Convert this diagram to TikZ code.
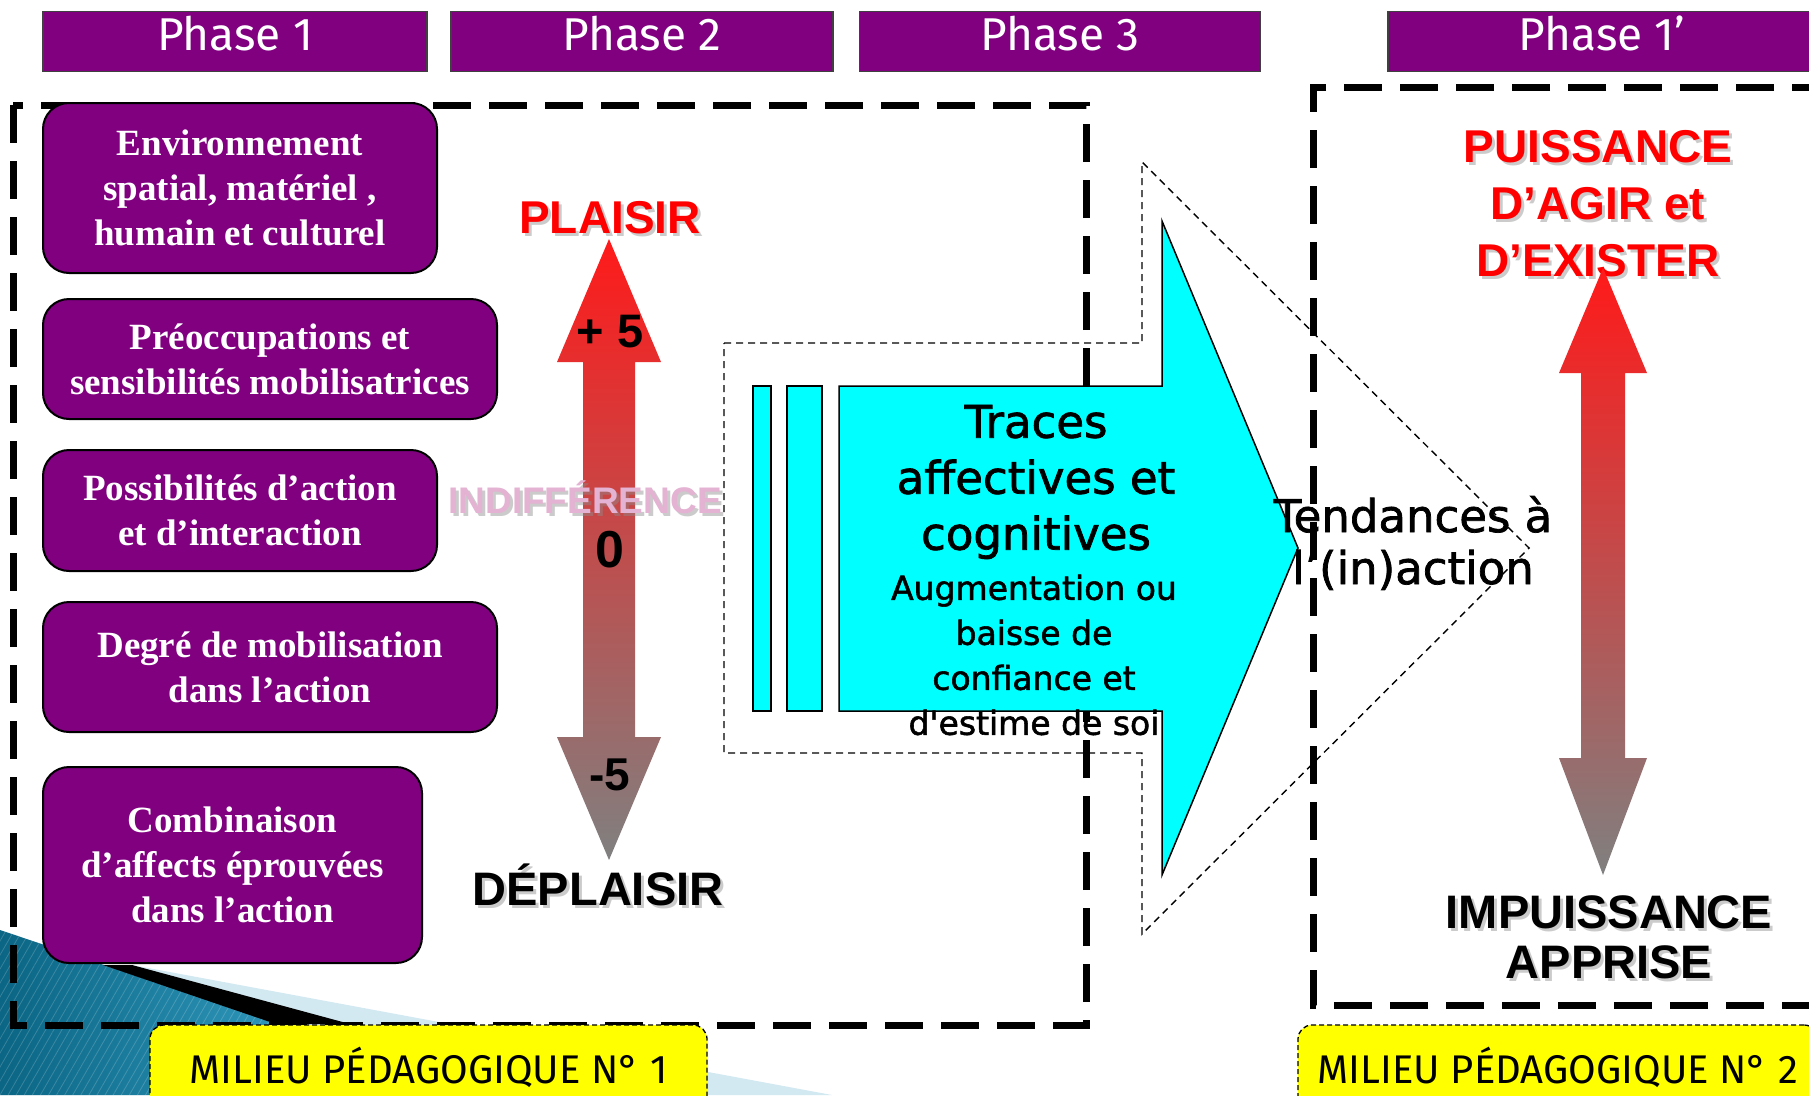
\documentclass[tikz,border=0pt]{standalone}
\usepackage{fontspec}
\setmainfont{Liberation Serif}
\newfontfamily\arialf{Liberation Sans}
\newfontfamily\dejaf[FakeBold=1.6]{DejaVu Sans}
\newfontfamily\firaf{Fira Sans}
\usetikzlibrary{patterns.meta}
\definecolor{purp}{HTML}{800080}
\definecolor{cyanf}{HTML}{00FFFF}
\definecolor{yel}{HTML}{FFFF00}
\definecolor{lblue}{HTML}{D3E9F1}
\definecolor{tealA}{HTML}{0B6584}
\definecolor{tealB}{HTML}{48BBE2}
\definecolor{pinkt}{HTML}{E4B2D2}
\definecolor{redt}{HTML}{FF0000}
\definecolor{arrred}{HTML}{FF1A1A}
\definecolor{arrgray}{HTML}{808080}
\begin{document}
\begin{tikzpicture}[x=1pt,y=-1pt,
  phasebox/.style={draw=black!75, line width=1.2pt, fill=purp, minimum height=60pt, inner sep=0pt,
    text=white, font=\firaf\fontsize{46pt}{52pt}\selectfont, text height=33pt, text depth=16pt},
  factor/.style={draw=black, line width=2pt, fill=purp, rounded corners=26pt, inner sep=0pt,
    text=white, font=\bfseries\fontsize{37pt}{45pt}\selectfont, align=center},
  bigdash/.style={line width=7pt, dash pattern=on 38pt off 18pt},
  thindash/.style={line width=1.4pt, dash pattern=on 7pt off 5pt},
  milieu/.style={fill=yel, draw=black, line width=1.3pt, dash pattern=on 5pt off 3pt, rounded corners=14pt,
    inner sep=0pt, minimum height=95pt, font=\firaf\fontsize{40pt}{46pt}\selectfont, text height=30pt, text depth=9pt},
  cyanshape/.style={fill=cyanf, draw=black, line width=1.5pt},
  lbl/.style={font=\arialf\bfseries\fontsize{46pt}{57pt}\selectfont, inner sep=0pt, align=center},
  shad/.style={text=black!45, opacity=0.45},
  tracetxt/.style={font=\dejaf\fontsize{45pt}{56pt}\selectfont, align=center, inner sep=0pt},
  tracesmall/.style={font=\dejaf\fontsize{33pt}{45pt}\selectfont, align=center, inner sep=0pt},
  dblarrow/.style={top color=arrred, bottom color=arrgray}
]
\useasboundingbox (0,0) rectangle (1809,1095);
\clip (0,0) rectangle (1809,1095);
\fill[white] (0,0) rectangle (1809,1095);

% background decoration (bottom left)
\fill[lblue] (132,965) -- (832,1095) -- (0,1095) -- (0,965) -- cycle;
\shade[left color=tealA, right color=tealB] (0,930) -- (490,1095) -- (0,1095) -- cycle;
\fill[pattern={Lines[angle=60, distance=7pt, line width=0.8pt]}, pattern color=white, opacity=0.18]
  (0,930) -- (490,1095) -- (0,1095) -- cycle;
\fill[black] (103,965) -- (132,965) -- (350,1024) -- (276,1024) -- cycle;

% thin dashed outline of the big arrow
\draw[thindash] (724,343) -- (1142,343) -- (1142,162) -- (1529,548) -- (1142,934) -- (1142,753) -- (724,753) -- cycle;

% thick dashed frames
\draw[bigdash] (13,105) rectangle (1086,1025);
\draw[bigdash] (1830,87) -- (1313,87) -- (1313,1005) -- (1830,1005);

% cyan striped block arrow
\draw[cyanshape] (753,386) rectangle (771,711);
\draw[cyanshape] (787,386) rectangle (822,711);
\draw[cyanshape] (839,386) -- (1162,386) -- (1162,221) -- (1298,548) -- (1162,875) -- (1162,711) -- (839,711) -- cycle;

% phase headers
\node[phasebox, minimum width=384pt] (p1) at (235,41.5) {Phase 1};
\node[phasebox, minimum width=382pt] (p2) at (642,41.5) {Phase 2};
\node[phasebox, minimum width=401pt] (p3) at (1060,41.5) {Phase 3};
\node[phasebox, minimum width=428pt] (p4) at (1602,41.5) {Phase 1’};

% factor boxes
\node[factor, minimum width=394pt, minimum height=170pt] (f1) at (240,188) {Environnement\\spatial, matériel ,\\humain et culturel};
\node[factor, minimum width=454pt, minimum height=120pt] (f2) at (270,359) {Préoccupations et\\sensibilités mobilisatrices};
\node[factor, minimum width=394pt, minimum height=121pt] (f3) at (240,510.5) {Possibilités d’action\\et d’interaction};
\node[factor, minimum width=454pt, minimum height=130pt] (f4) at (270,667) {Degré de mobilisation\\dans l’action};
\node[factor, minimum width=379pt, minimum height=196pt] (f5) at (232.5,865) {Combinaison\\d’affects éprouvées\\dans l’action};

% milieu boxes
\node[milieu, minimum width=557pt] (m1) at (428.5,1072.5) {MILIEU PÉDAGOGIQUE N° 1};
\node[milieu, minimum width=520pt] (m2) at (1558,1072.5) {MILIEU PÉDAGOGIQUE N° 2};

% left scale arrow
\shade[dblarrow] (609,239) -- (661,362) -- (635,362) -- (635,737) -- (661,737) -- (609,860) -- (557,737) -- (583,737) -- (583,362) -- (557,362) -- cycle;
\node[lbl, shad, anchor=base] (plaisirS) at (613,236) {PLAISIR};
\node[lbl, text=redt, anchor=base] (plaisir) at (610,233) {PLAISIR};
\node[lbl, font=\arialf\bfseries\fontsize{47pt}{57pt}\selectfont, anchor=base] (plus5) at (610,347) {+ 5};
\node[lbl, shad, font=\arialf\bfseries\fontsize{37pt}{44pt}\selectfont, anchor=base] (indifS) at (588,516) {INDIFFÉRENCE};
\node[lbl, text=pinkt, font=\arialf\bfseries\fontsize{37pt}{44pt}\selectfont, anchor=base] (indif) at (585,513) {INDIFFÉRENCE};
\node[lbl, font=\arialf\bfseries\fontsize{52pt}{60pt}\selectfont, anchor=base] (zero) at (610,567) {0};
\node[lbl, anchor=base] (minus5) at (610,790) {-5};
\node[lbl, shad, font=\arialf\bfseries\fontsize{47pt}{57pt}\selectfont, anchor=base] (deplS) at (601,908) {DÉPLAISIR};
\node[lbl, font=\arialf\bfseries\fontsize{47pt}{57pt}\selectfont, anchor=base] (depl) at (598,905) {DÉPLAISIR};

% right scale arrow
\node[lbl, shad] (puisS) at (1601,206.5) {PUISSANCE\\D’AGIR et\\D’EXISTER};
\node[lbl, text=redt] (puis) at (1598,203.5) {PUISSANCE\\D’AGIR et\\D’EXISTER};
\shade[dblarrow] (1603,268) -- (1647,373) -- (1625,373) -- (1625,758) -- (1647,758) -- (1603,875) -- (1559,758) -- (1581,758) -- (1581,373) -- (1559,373) -- cycle;
\node[lbl, shad, font=\arialf\bfseries\fontsize{47pt}{50pt}\selectfont] (impS) at (1612,940) {IMPUISSANCE\\APPRISE};
\node[lbl, font=\arialf\bfseries\fontsize{47pt}{50pt}\selectfont] (imp) at (1609,937) {IMPUISSANCE\\APPRISE};

% texts of the block arrow
\node[tracetxt] (traces) at (1036,482) {Traces\\affectives et\\cognitives};
\node[tracesmall] (confiance) at (1034,655) {Augmentation ou\\baisse de\\confiance et\\d'estime de soi};
\node[tracetxt, font=\dejaf\fontsize{45pt}{52pt}\selectfont] (tendances) at (1413,543) {Tendances à\\l’(in)action};
\end{tikzpicture}
\end{document}
